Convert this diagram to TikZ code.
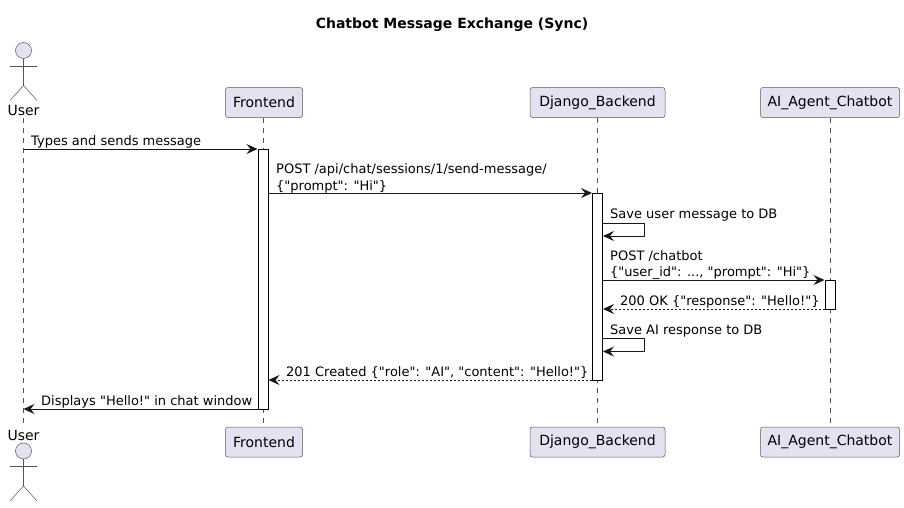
\documentclass[tikz,border=0pt]{standalone}
\usepackage{fontspec}
\setmainfont{DejaVu Sans}[Ligatures=TeXOff]
\usetikzlibrary{arrows.meta}
\definecolor{partfill}{HTML}{E2E2F0}
\definecolor{partline}{HTML}{555555}
\definecolor{msgline}{HTML}{181818}
\tikzset{
  partbox/.style={draw=partline, fill=partfill, line width=0.5pt, rounded corners=2.5pt, minimum height=30pt, inner sep=0pt, font=\fontsize{14}{16}\selectfont},
  actorline/.style={draw=partline, line width=0.5pt},
  lifeline/.style={draw=partline, line width=0.5pt, dash pattern=on 5pt off 5pt},
  activebar/.style={draw=black, fill=white, line width=1pt, minimum width=10pt, inner sep=0pt},
  msg/.style={draw=msgline, line width=1pt, -{Stealth[length=11pt, width=10pt, inset=4pt]}},
  reply/.style={msg, line width=0.8pt, dash pattern=on 2pt off 2pt},
  msgtext/.style={anchor=west, inner sep=0pt, align=left, font=\fontsize{13}{16.4}\selectfont},
}
\newcommand{\actorfig}[2]{%
  \draw[actorline, fill=partfill] (#1, #2) circle (8);
  \draw[actorline] (#1, #2+8)--(#1, #2+35);
  \draw[actorline] (#1-13.5, #2+15.5)--(#1+13.5, #2+15.5);
  \draw[actorline] (#1-13.5, #2+50)--(#1, #2+35)--(#1+13.5, #2+50);
}
\begin{document}
\begin{tikzpicture}[x=1pt, y=-1pt]
    \useasboundingbox (0, 0) rectangle (904, 507);

    \node[font=\fontsize{14}{16}\selectfont\bfseries] (title) at (452, 24.5) {Chatbot Message Exchange (Sync)};

    % heads
    \actorfig{23.5}{50.5}
    \node[inner sep=0pt, font=\fontsize{14}{16}\selectfont] (user) at (23.5, 110.5) {User};
    \node[partbox, minimum width=77pt] (front) at (264, 102.5) {Frontend};
    \node[partbox, minimum width=135pt] (django) at (597.5, 102.5) {Django\_Backend};
    \node[partbox, minimum width=139pt] (agent) at (830, 102.5) {AI\_Agent\_Chatbot};

    % feet
    \actorfig{23.5}{451}
    \node[inner sep=0pt, font=\fontsize{14}{16}\selectfont] (userb) at (23.5, 435.5) {User};
    \node[partbox, minimum width=77pt] (frontb) at (264, 442) {Frontend};
    \node[partbox, minimum width=135pt] (djangob) at (597.5, 442) {Django\_Backend};
    \node[partbox, minimum width=139pt] (agentb) at (830, 442) {AI\_Agent\_Chatbot};

    \coordinate (ul) at (23.5, 118);
    \coordinate (ulb) at (23.5, 425);
    \coordinate (fl) at (263.5, 0);
    \draw[lifeline] (ul)--(ulb);
    \draw[lifeline] (front.south -| fl)--(frontb.north -| fl);
    \draw[lifeline] (django.south)--(djangob.north);
    \draw[lifeline] (agent.south)--(agentb.north);

    % activations
    \node[activebar, minimum height=260pt] (frontbar) at (263, 279) {};
    \node[activebar, minimum height=187pt] (djangobar) at (597.5, 286.5) {};
    \node[activebar, minimum height=29pt] (agentbar) at (830, 294.5) {};

    % rows
    \coordinate (r1) at (0, 149);
    \coordinate (r2) at (0, 193);
    \coordinate (r3) at (0, 223);
    \coordinate (r3b) at (0, 236);
    \coordinate (r4) at (0, 280);
    \coordinate (r5) at (0, 309);
    \coordinate (r6) at (0, 338.5);
    \coordinate (r6b) at (0, 351.5);
    \coordinate (r7) at (0, 380);
    \coordinate (r8) at (0, 409);
    \coordinate (selfx) at (644.5, 0);

    \draw[msg] (ul |- r1)--(frontbar.west |- r1);
    \draw[msg] (frontbar.east |- r2)--(djangobar.west |- r2);
    \draw[msg] (djangobar.east |- r3)--(selfx |- r3)--(selfx |- r3b)--(djangobar.east |- r3b);
    \draw[msg] (djangobar.east |- r4)--(agentbar.west |- r4);
    \draw[reply] (agentbar.west |- r5)--(djangobar.east |- r5);
    \draw[msg] (djangobar.east |- r6)--(selfx |- r6)--(selfx |- r6b)--(djangobar.east |- r6b);
    \draw[reply] (djangobar.west |- r7)--(frontbar.east |- r7);
    \draw[msg] (frontbar.west |- r8)--(ul |- r8);

    \node[msgtext] (t1) at (31, 142) {Types and sends message};
    \node[msgtext] (t2) at (276, 178.5) {POST /api/chat/sessions/1/send-message/\\\{"prompt": "Hi"\}};
    \node[msgtext] (t3) at (610, 215) {Save user message to DB};
    \node[msgtext] (t4) at (610, 265) {POST /chatbot\\\{"user\_id": ..., "prompt": "Hi"\}};
    \node[msgtext] (t5) at (620, 301.5) {200 OK \{"response": "Hello!"\}};
    \node[msgtext] (t6) at (610, 331) {Save AI response to DB};
    \node[msgtext] (t7) at (286, 373) {201 Created \{"role": "AI", "content": "Hello!"\}};
    \node[msgtext] (t8) at (41, 402) {Displays "Hello!" in chat window};
\end{tikzpicture}
\end{document}
